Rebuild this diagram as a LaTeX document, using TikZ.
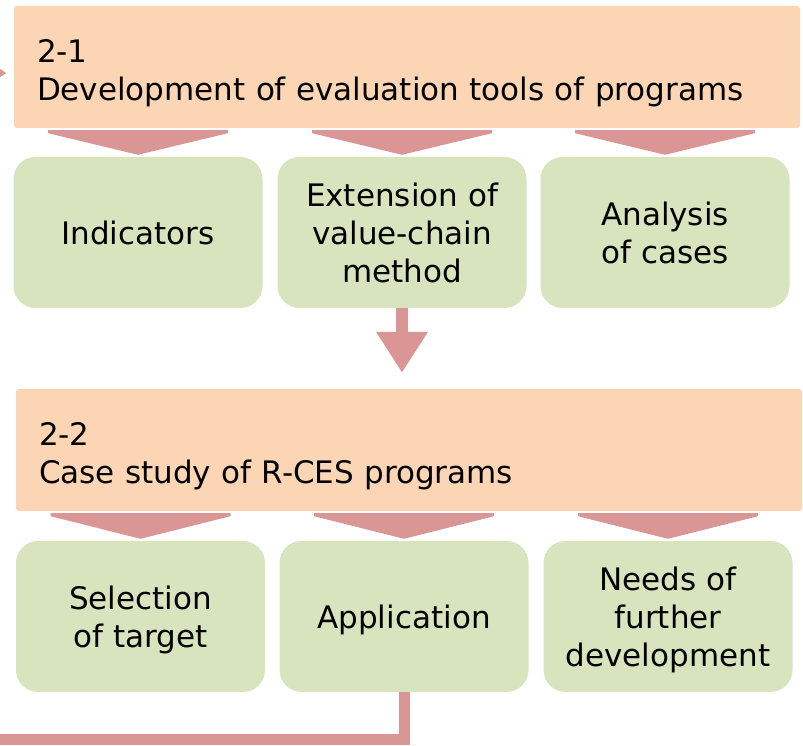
\documentclass[tikz,border=0pt]{standalone}
\usepackage{fontspec}
\setmainfont{DejaVu Sans}
\usepackage{tikz}
\usetikzlibrary{calc}
\usetikzlibrary{arrows.meta}

\definecolor{peach}{HTML}{FCD5B5}
\definecolor{sage}{HTML}{D7E4BD}
\definecolor{rose}{HTML}{D99694}

% wide flat chevron between a heading box (#1) and a task box (#2)
\newcommand{\chevron}[2]{
	\fill[rose] ($(#2.north |- #1.south)+(-90,-2)$) -- ($(#2.north |- #1.south)+(90,-2)$) -- ($(#2.north |- #1.south)+(90,-5)$) -- ($(#2.north)+(0,2)$) -- ($(#2.north |- #1.south)+(-90,-5)$) -- cycle;
}

\begin{document}
\begin{tikzpicture}[x=1pt,y=1pt,
		head/.style={fill=peach, rounded corners=3pt, text width=740pt, inner xsep=23pt, inner ysep=0pt, minimum height=122pt, align=left, text height=24pt, text depth=33pt},
		task/.style={fill=sage, rounded corners=22pt, minimum width=249pt, minimum height=151pt, inner sep=0pt, align=center, text depth=0pt},
		bigtip/.style={-{Triangle[width=49pt,length=41pt]}}]
				\tikzstyle{every node}=[font=\fontsize{31}{38}\selectfont]
				\useasboundingbox (0,0) rectangle (803,746);
				
				\node[head] (dev) at (407,679) {2-1\\Development of evaluation tools of programs};
				
				\node[task] (ind) at (138,513.5) {Indicators};
				\node[task] (ext) at (402,513.5) {Extension of\\value-chain\\method};
				\node[task] (ana) at (665,513.5) {Analysis\\of cases};
				
				\node[head] (cs) at (409,296) {2-2\\Case study of R-CES programs};
				
				\node[task] (sel) at (140.5,129.5) {Selection\\of target};
				\node[task] (app) at (404,129.5) {Application};
				\node[task] (need) at (668,129.5) {Needs of\\further\\development};
				
				\chevron{dev}{ind}
				\chevron{dev}{ext}
				\chevron{dev}{ana}
				\chevron{cs}{sel}
				\chevron{cs}{app}
				\chevron{cs}{need}
				
				\coordinate (gap) at ($(ext.south |- cs.north)+(0,16)$);
				\draw [bigtip, color=rose, line width=12pt] (ext.south) -- (gap);
				
				% loop back to 2-1
				\coordinate (back) at (0,6);
				\draw [color=rose, line width=11pt] (app.south) |- (back);
				\coordinate (loop) at (-60,673);
				\coordinate (entry) at ($(dev.west)+(-7,-6)$);
				\draw [bigtip, color=rose, line width=11pt] (loop) -- (entry);
				
\end{tikzpicture}
\end{document}
